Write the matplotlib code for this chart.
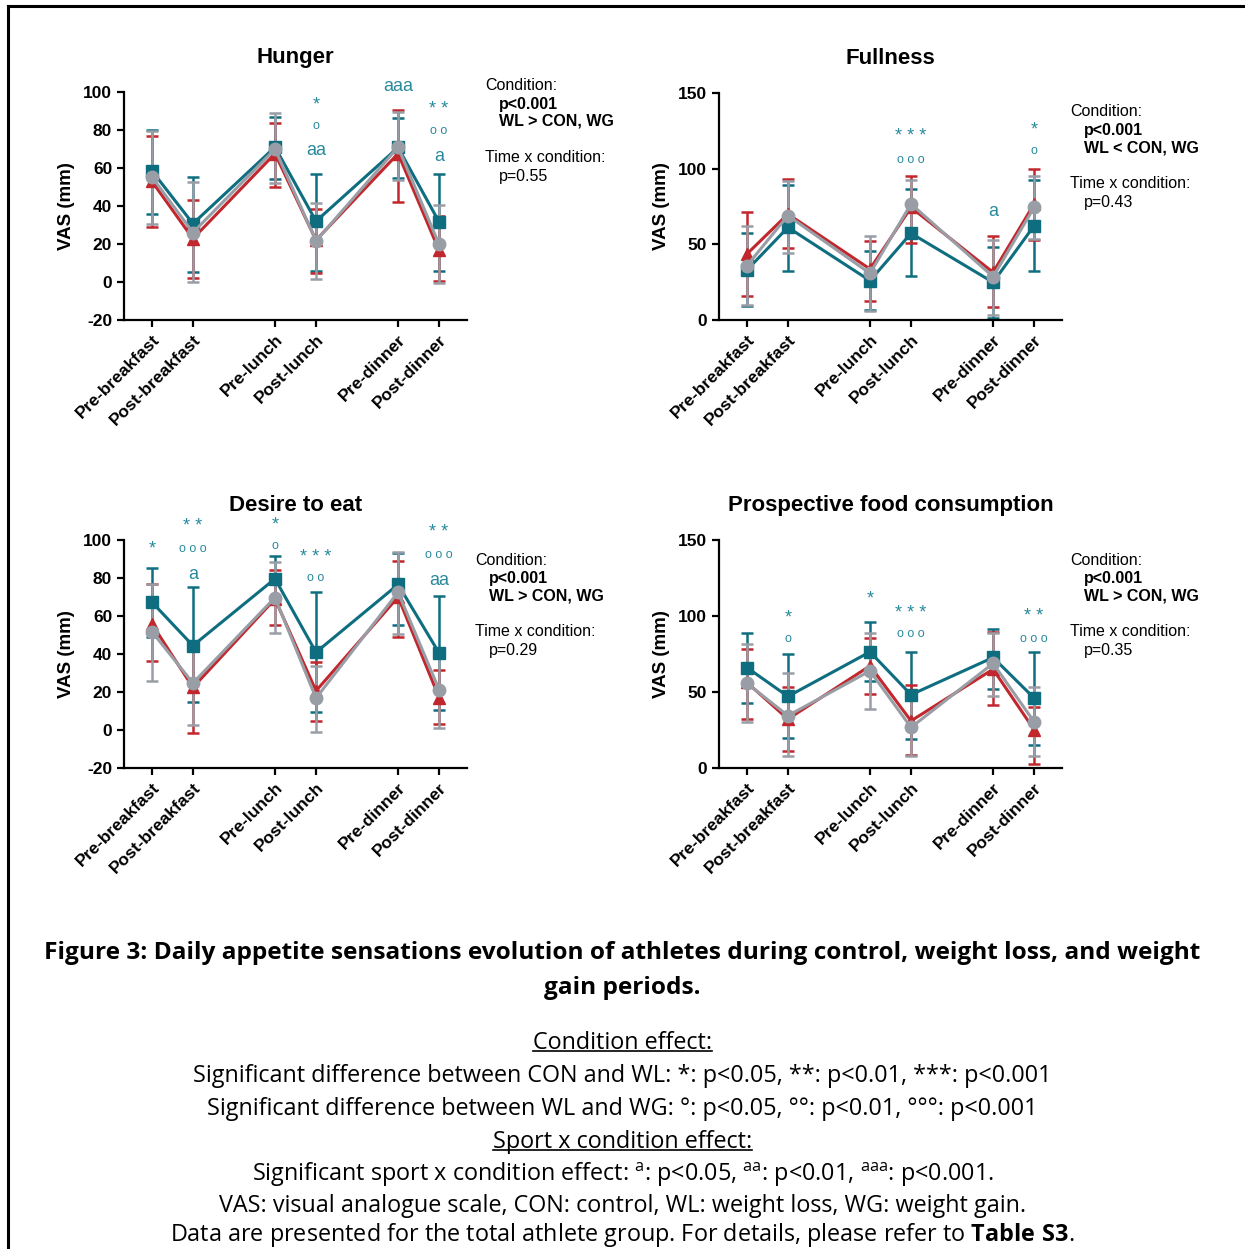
import numpy as np
import matplotlib
matplotlib.use('Agg')
import matplotlib.pyplot as plt
from matplotlib.lines import Line2D

plt.rcParams['font.family'] = ['Liberation Sans', 'DejaVu Sans']
plt.rcParams['axes.unicode_minus'] = False
plt.rcParams['mathtext.fontset'] = 'custom'
plt.rcParams['mathtext.rm'] = 'Open Sans'
plt.rcParams['mathtext.bf'] = 'Open Sans:bold'

# time points (gaps between meals)
timepoints = ['Pre-breakfast', 'Post-breakfast', 'Pre-lunch', 'Post-lunch', 'Pre-dinner', 'Post-dinner']
xpos = [0, 1, 3, 4, 6, 7]

# mean, lower and upper error-bar ends per condition (teal = WL, red = CON, gray = WG)
hunger_wl = [58.5, 30.7, 71, 32, 70.8, 31.6]
hunger_wl_lo = [36, 5.2, 54, 6, 54.8, 6]
hunger_wl_hi = [80, 55.3, 87, 56.7, 86.5, 57]
hunger_con = [53, 22.8, 67.6, 22, 67.6, 16.6]
hunger_con_lo = [29, 2, 50, 4.6, 42, 0.4]
hunger_con_hi = [77, 43.3, 83.5, 38.6, 90.5, 35]
hunger_wg = [55.3, 26, 70, 21.7, 71, 19.8]
hunger_wg_lo = [30.3, 0, 52, 1.5, 53.5, -0.3]
hunger_wg_hi = [79.6, 52.7, 88.7, 41.8, 89.6, 40.3]

full_wl = [33, 61.2, 26, 57.3, 24.9, 62.3]
full_wl_lo = [9, 32.6, 6.6, 28.9, 1.3, 32.6]
full_wl_hi = [57.3, 89.4, 45.8, 86.3, 48, 92.5]
full_con = [43.6, 70, 33.7, 74.4, 31.5, 76.6]
full_con_lo = [16, 47.4, 12.8, 50.9, 8.8, 52.9]
full_con_hi = [71.6, 93, 52, 95.4, 55.7, 99.8]
full_wg = [35.9, 69, 30.8, 76.7, 28.6, 74.4]
full_wg_lo = [10, 44.5, 5.7, 60, 3.3, 53.5]
full_wg_hi = [62, 92, 55.7, 92.5, 53, 95]

desire_wl = [67.3, 44.4, 79.6, 40.9, 76.6, 40.5]
desire_wl_lo = [48.8, 14.5, 67, 9.7, 55, 10.6]
desire_wl_hi = [85.4, 75.5, 91.6, 72.5, 93.1, 70.4]
desire_con = [55.8, 22.4, 69, 20.6, 70, 17.1]
desire_con_lo = [36.5, -1.4, 55.3, 4.8, 48.8, 3.4]
desire_con_hi = [76.6, 45, 84, 36, 88.9, 31.7]
desire_wg = [51.8, 24.7, 69.7, 16.8, 72.5, 21.2]
desire_wg_lo = [26, 2.5, 50.9, -1, 50.5, 1]
desire_wg_hi = [77, 45, 88.4, 33.8, 93.7, 38]

pfc_wl = [66.1, 47.1, 76.4, 48.2, 72.7, 46]
pfc_wl_lo = [42.5, 19.7, 57.4, 19, 52.3, 15.3]
pfc_wl_hi = [88.7, 74.7, 96.1, 76.4, 91.7, 76]
pfc_con = [56.3, 32.2, 67.2, 31, 65, 25.2]
pfc_con_lo = [32.2, 10.9, 49, 8.8, 41.6, 2.6]
pfc_con_hi = [78.6, 53.6, 85.2, 54.7, 89.6, 40]
pfc_wg = [55.8, 34.4, 63.9, 26.7, 68.8, 30.4]
pfc_wg_lo = [30, 7.7, 38.8, 8.1, 47.5, 7.7]
pfc_wg_hi = [81.5, 62.4, 88.5, 45, 89.1, 53.6]

# significance marks: (timepoint index, y, text)
hunger_marks = [(3, 93, '*'), (3, 82, 'o'), (3, 69, 'aa'), (4, 103, 'aaa'),
                (5, 91, '* *'), (5, 79.5, 'o o'), (5, 66, 'a')]
full_marks = [(3, 121, '* * *'), (3, 106, 'o o o'), (4, 72, 'a'), (5, 125.6, '*'), (5, 111.5, 'o')]
desire_marks = [(0, 95.4, '*'), (1, 107, '* *'), (1, 95.4, 'o o o'), (1, 81.7, 'a'),
                (2, 107.7, '*'), (2, 96.7, 'o'), (3, 91, '* * *'), (3, 80, 'o o'),
                (5, 103.9, '* *'), (5, 92.3, 'o o o'), (5, 78.7, 'aa')]
pfc_marks = [(1, 99, '*'), (1, 85, 'o'), (2, 111.5, '*'), (3, 101.8, '* * *'), (3, 88, 'o o o'),
             (5, 99.6, '* *'), (5, 85, 'o o o')]

c_wl = '#0e6e80'
c_con = '#c1272d'
c_wg = '#999ea6'
c_mark = '#2a8a9c'

W, H = 1245, 1249
fig = plt.figure(figsize=(W / 100, H / 100), dpi=100)

def px_axes(x0, x1, ytop, ybot):
    return fig.add_axes([x0 / W, 1 - ybot / H, (x1 - x0) / W, (ybot - ytop) / H])

panels = [
    ('Hunger', (124, 467, 92, 320), (-20, 100), [-20, 0, 20, 40, 60, 80, 100],
     [(hunger_wl, hunger_wl_lo, hunger_wl_hi), (hunger_con, hunger_con_lo, hunger_con_hi),
      (hunger_wg, hunger_wg_lo, hunger_wg_hi)], hunger_marks),
    ('Fullness', (719, 1062, 93, 320), (0, 150), [0, 50, 100, 150],
     [(full_wl, full_wl_lo, full_wl_hi), (full_con, full_con_lo, full_con_hi),
      (full_wg, full_wg_lo, full_wg_hi)], full_marks),
    ('Desire to eat', (124, 467, 540, 768), (-20, 100), [-20, 0, 20, 40, 60, 80, 100],
     [(desire_wl, desire_wl_lo, desire_wl_hi), (desire_con, desire_con_lo, desire_con_hi),
      (desire_wg, desire_wg_lo, desire_wg_hi)], desire_marks),
    ('Prospective food consumption', (719, 1062, 540, 768), (0, 150), [0, 50, 100, 150],
     [(pfc_wl, pfc_wl_lo, pfc_wl_hi), (pfc_con, pfc_con_lo, pfc_con_hi),
      (pfc_wg, pfc_wg_lo, pfc_wg_hi)], pfc_marks),
]

styles = [(c_wl, 's'), (c_con, '^'), (c_wg, 'o')]

for title, box, ylim, yticks, series, marks in panels:
    ax = px_axes(*box)
    for (mean, lo, hi), (col, mk) in zip(series, styles):
        mean = np.array(mean)
        err = [mean - np.array(lo), np.array(hi) - mean]
        ax.errorbar(xpos, mean, yerr=err, color=col, marker=mk, markersize=9,
                    linewidth=2.2, elinewidth=1.8, capsize=4.5, capthick=1.8, clip_on=False)
    for i, y, s in marks:
        if 'o' in s:
            ax.text(xpos[i], y, s, color=c_mark, fontsize=9, ha='center', va='center', clip_on=False)
        else:
            ax.text(xpos[i], y, s, color=c_mark, fontsize=13, ha='center', va='center', clip_on=False)
    ax.set_xlim(-0.68, 7.68)
    ax.set_ylim(*ylim)
    ax.set_yticks(yticks)
    ax.set_xticks(xpos)
    ax.set_xticklabels(timepoints, rotation=45, ha='right', rotation_mode='anchor',
                       fontsize=12.5, fontweight='bold')
    for lab in ax.get_yticklabels():
        lab.set_fontweight('bold')
        lab.set_fontsize(12.5)
    ax.set_ylabel('VAS (mm)', fontsize=13.5, fontweight='bold', labelpad=6)
    for sp in ['top', 'right']:
        ax.spines[sp].set_visible(False)
    for sp in ['left', 'bottom']:
        ax.spines[sp].set_linewidth(1.6)
    ax.tick_params(width=1.6, length=5)
    ax.set_title(title, fontsize=16, fontweight='bold', pad=21)

# stats text per panel
stats = [
    (485, [86, 104, 121, 158, 177], 'WL > CON, WG', 'p=0.55'),
    (1070, [111, 130, 148, 184, 203], 'WL < CON, WG', 'p=0.43'),
    (475, [560, 578, 596, 632, 651], 'WL > CON, WG', 'p=0.29'),
    (1070, [560, 578, 596, 632, 651], 'WL > CON, WG', 'p=0.35'),
]
for x, ys, cmp, ptc in stats:
    fig.text(x / W, 1 - ys[0] / H, 'Condition:', fontsize=11.5, va='center')
    fig.text((x + 14) / W, 1 - ys[1] / H, 'p<0.001', fontsize=11.5, fontweight='bold', va='center')
    fig.text((x + 14) / W, 1 - ys[2] / H, cmp, fontsize=11.5, fontweight='bold', va='center')
    fig.text(x / W, 1 - ys[3] / H, 'Time x condition:', fontsize=11.5, va='center')
    fig.text((x + 14) / W, 1 - ys[4] / H, ptc, fontsize=11.5, va='center')

# caption
cap = dict(family='Open Sans', ha='center', va='center')
fig.text(0.5, 1 - 953 / H, 'Figure 3: Daily appetite sensations evolution of athletes during control, weight loss, and weight',
         fontsize=17.6, fontweight='bold', **cap)
fig.text(0.5, 1 - 988 / H, 'gain periods.', fontsize=17.6, fontweight='bold', **cap)
lines = [
    (1043, 'Condition effect:', True),
    (1076, 'Significant difference between CON and WL: *: p<0.05, **: p<0.01, ***: p<0.001', False),
    (1109, 'Significant difference between WL and WG: °: p<0.05, °°: p<0.01, °°°: p<0.001', False),
    (1142, 'Sport x condition effect:', True),
    (1175, r'Significant sport x condition effect: $^{\mathrm{a}}$: p<0.05, $^{\mathrm{aa}}$: p<0.01, $^{\mathrm{aaa}}$: p<0.001.', False),
    (1206, 'VAS: visual analogue scale, CON: control, WL: weight loss, WG: weight gain.', False),
    (1235, r'Data are presented for the total athlete group. For details, please refer to $\mathbf{Table\ S3}$.', False),
]
under = []
for y, s, ul in lines:
    t = fig.text(0.5, 1 - y / H, s, fontsize=16.8, **cap)
    if ul:
        under.append(t)

fig.canvas.draw()
r = fig.canvas.get_renderer()
for t in under:
    bb = t.get_window_extent(r).transformed(fig.transFigure.inverted())
    fig.add_artist(Line2D([bb.x0, bb.x1], [bb.y0 + 0.003, bb.y0 + 0.003], color='black', lw=1.2))

# page frame (left and top edges)
fig.add_artist(Line2D([8 / W, 8 / W], [0, 1 - 6 / H], color='black', lw=2.2))
fig.add_artist(Line2D([8 / W, 1], [1 - 6 / H, 1 - 6 / H], color='black', lw=2.2))

fig.savefig('out.png', dpi=100)
